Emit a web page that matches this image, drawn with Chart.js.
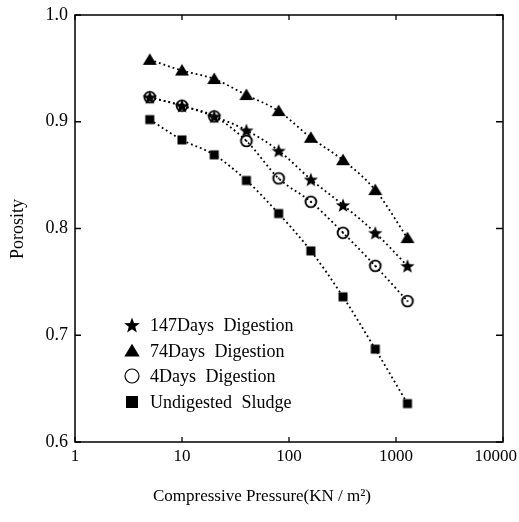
<!DOCTYPE html>
<html>
<head>
<meta charset="utf-8">
<script src="https://cdn.jsdelivr.net/npm/chart.js@4.4.1/dist/chart.umd.min.js"></script>
<style>
    html, body { margin: 0; padding: 0; background: #fff; }
    #wrap { width: 519px; height: 522px; }
</style>
</head>
<body>
<div id="wrap"><canvas id="grafico"></canvas></div>
<script>
// Dados
const pressure = [5, 10, 20, 40, 80, 160, 320, 640, 1280];
const days147 = [0.923, 0.915, 0.905, 0.892, 0.873, 0.846, 0.822, 0.796, 0.765];
const days74 = [0.958, 0.948, 0.940, 0.925, 0.910, 0.885, 0.864, 0.836, 0.791];
const days4 = [0.923, 0.915, 0.905, 0.882, 0.847, 0.825, 0.796, 0.765, 0.732];
const undigested = [0.902, 0.883, 0.869, 0.845, 0.814, 0.779, 0.736, 0.687, 0.636];
const seriesLabels = ['147Days Digestion', '74Days Digestion', '4Days Digestion', 'Undigested Sludge'];
const xTicks = [1, 10, 100, 1000, 10000];
const yTicks = [0.6, 0.7, 0.8, 0.9, 1.0];

const FONT = "'Liberation Serif', 'DejaVu Serif', serif";

// Criar marcadores em canvas
function makeMarker(kind, big) {
    const size = 18;
    const k = big ? 1.1 : 1;
    const c = document.createElement('canvas');
    c.width = size; c.height = size;
    const ctx = c.getContext('2d');
    const m = size / 2;
    ctx.fillStyle = '#000';
    ctx.strokeStyle = '#000';
    if (kind === 'star') {
        ctx.beginPath();
        for (let i = 0; i < 10; i++) {
            const r = (i % 2 === 0 ? 7.5 : 3.1) * k;
            const a = -Math.PI / 2 + i * Math.PI / 5;
            ctx.lineTo(m + r * Math.cos(a), m + 0.8 + r * Math.sin(a));
        }
        ctx.closePath();
        ctx.fill();
    } else if (kind === 'triangle') {
        ctx.beginPath();
        ctx.moveTo(m, m - 6.5 * k);
        ctx.lineTo(m + 7 * k, m + 5 * k);
        ctx.lineTo(m - 7 * k, m + 5 * k);
        ctx.closePath();
        ctx.fill();
    } else if (kind === 'circle') {
        if (big) {
            ctx.lineWidth = 1.2;
            ctx.beginPath();
            ctx.arc(m, m, 7, 0, Math.PI * 2);
            ctx.stroke();
        } else {
            ctx.lineWidth = 1.9;
            ctx.beginPath();
            ctx.arc(m, m, 5.4, 0, Math.PI * 2);
            ctx.stroke();
            ctx.beginPath();
            ctx.arc(m, m, 1, 0, Math.PI * 2);
            ctx.fill();
        }
    } else {
        const h = big ? 6 : 4.5;
        ctx.fillRect(m - h, m - h, 2 * h, 2 * h);
    }
    return c;
}

const kinds = ['star', 'triangle', 'circle', 'rect'];
const seriesValues = [days147, days74, days4, undigested];

const datasets = seriesValues.map((vals, i) => ({
    label: seriesLabels[i],
    data: pressure.map((p, j) => ({ x: p, y: vals[j] })),
    showLine: true,
    borderColor: '#000',
    borderWidth: 1.8,
    borderDash: [1.8, 3],
    cubicInterpolationMode: 'monotone',
    pointStyle: makeMarker(kinds[i], false),
    pointRadius: 6,
    backgroundColor: '#000'
}));

// Caixa, marcas internas, rótulos, títulos e legenda
const framePlugin = {
    id: 'frame',
    afterDraw(chart) {
        const ctx = chart.ctx;
        const a = chart.chartArea;
        const xs = chart.scales.x;
        const ys = chart.scales.y;
        ctx.save();
        ctx.strokeStyle = '#000';
        ctx.lineWidth = 1.5;
        ctx.strokeRect(a.left, a.top, a.right - a.left, a.bottom - a.top);
        ctx.lineWidth = 1.3;
        xTicks.forEach(v => {
            const px = xs.getPixelForValue(v);
            ctx.beginPath();
            ctx.moveTo(px, a.bottom); ctx.lineTo(px, a.bottom - 5);
            ctx.moveTo(px, a.top); ctx.lineTo(px, a.top + 5);
            ctx.stroke();
        });
        yTicks.forEach(v => {
            const py = ys.getPixelForValue(v);
            ctx.beginPath();
            ctx.moveTo(a.left, py); ctx.lineTo(a.left + 6, py);
            ctx.moveTo(a.right, py); ctx.lineTo(a.right - 7, py);
            ctx.stroke();
        });

        // Rótulos do eixo x (o último encostado na borda)
        ctx.fillStyle = '#000';
        ctx.font = '17px ' + FONT;
        ctx.textBaseline = 'middle';
        ctx.textAlign = 'center';
        xTicks.forEach(v => {
            const label = String(v);
            let px = xs.getPixelForValue(v);
            const w = ctx.measureText(label).width;
            if (px + w / 2 > chart.width - 2) px = chart.width - 2 - w / 2;
            ctx.fillText(label, px, a.bottom + 15);
        });

        // Títulos dos eixos
        ctx.font = '17px ' + FONT;
        ctx.fillText('Compressive Pressure(KN / m²)', 262, 497);
        ctx.save();
        ctx.translate(18, 229);
        ctx.rotate(-Math.PI / 2);
        ctx.font = '18px ' + FONT;
        ctx.fillText('Porosity', 0, 0);
        ctx.restore();

        // Legenda
        ctx.font = '18px ' + FONT;
        ctx.textAlign = 'left';
        if ('wordSpacing' in ctx) ctx.wordSpacing = '5px';
        const rows = [325, 351, 376, 402];
        kinds.forEach((k, i) => {
            ctx.drawImage(makeMarker(k, true), 123, rows[i] - 9);
            ctx.fillText(seriesLabels[i], 150, rows[i] + 1);
        });
        ctx.restore();
    }
};

const ctx = document.getElementById('grafico').getContext('2d');
new Chart(ctx, {
    type: 'scatter',
    data: { datasets: datasets },
    options: {
        responsive: true,
        maintainAspectRatio: false,
        animation: false,
        layout: { padding: { top: 15, right: 16, left: 0, bottom: 0 } },
        plugins: {
            legend: { display: false },
            tooltip: { enabled: false }
        },
        scales: {
            x: {
                type: 'logarithmic',
                min: 1,
                max: 10000,
                afterBuildTicks: scale => { scale.ticks = xTicks.map(v => ({ value: v })); },
                afterFit: scale => {
                    scale.height = 80;
                    scale.paddingLeft = 0;
                    scale.paddingRight = 0;
                },
                grid: { display: false, drawTicks: false },
                border: { display: false },
                ticks: { display: false }
            },
            y: {
                min: 0.6,
                max: 1.0,
                afterBuildTicks: scale => { scale.ticks = yTicks.map(v => ({ value: v })); },
                afterFit: scale => {
                    scale.width = 75;
                    scale.paddingTop = 0;
                    scale.paddingBottom = 0;
                },
                grid: { display: false, drawTicks: false },
                border: { display: false },
                ticks: {
                    color: '#000',
                    font: { family: FONT, size: 18 },
                    padding: 7,
                    callback: v => v.toFixed(1)
                }
            }
        }
    },
    plugins: [framePlugin]
});
</script>
</body>
</html>
